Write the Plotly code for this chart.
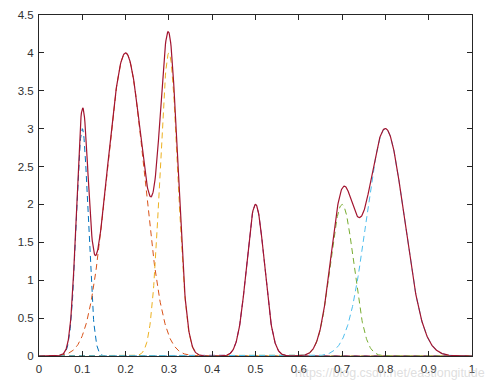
import numpy as np
import plotly.graph_objects as go

# Peak parameters (one dashed component per peak)
centers = [0.1, 0.2, 0.3, 0.5, 0.7, 0.8]
heights = [3.0, 4.0, 4.0, 2.0, 2.0, 3.0]
widths = [0.0136, 0.043, 0.0205, 0.0205, 0.027, 0.0435]
colors = ["#0072BD", "#D95319", "#EDB120", "#7E2F8E", "#77AC30", "#4DBEEE"]
sum_color = "#A2142F"

x_ticks = [0, 0.1, 0.2, 0.3, 0.4, 0.5, 0.6, 0.7, 0.8, 0.9, 1]
x_tick_labels = ["0", "0.1", "0.2", "0.3", "0.4", "0.5", "0.6", "0.7", "0.8", "0.9", "1"]
y_ticks = [0, 0.5, 1, 1.5, 2, 2.5, 3, 3.5, 4, 4.5]
y_tick_labels = ["0", "0.5", "1", "1.5", "2", "2.5", "3", "3.5", "4", "4.5"]

x = np.linspace(0, 1, 1001)
fig = go.Figure()
total = np.zeros_like(x)
for c, h, w, col in zip(centers, heights, widths, colors):
    y = h * np.exp(-((x - c) ** 2) / (2 * w ** 2))
    total += y
    fig.add_trace(go.Scatter(x=x, y=y, mode="lines",
                             line=dict(color=col, width=1, dash="6px,4px"),
                             hoverinfo="skip"))
fig.add_trace(go.Scatter(x=x, y=total, mode="lines",
                         line=dict(color=sum_color, width=1.2),
                         hoverinfo="skip"))

axis_common = dict(showgrid=False, zeroline=False, ticks="inside", ticklen=5,
                   tickwidth=1, tickcolor="#262626", showline=True,
                   linecolor="#262626", linewidth=1, mirror="ticks",
                   automargin=False,
                   tickfont=dict(family="Liberation Sans, Arial, sans-serif",
                                 size=11.5, color="#303030"))
fig.update_xaxes(range=[0, 1], tickvals=x_ticks, ticktext=x_tick_labels,
                 ticklabelstandoff=2, **axis_common)
fig.update_yaxes(range=[0, 4.5], tickvals=y_ticks, ticktext=y_tick_labels,
                 ticklabelstandoff=2, **axis_common)

fig.add_annotation(text="https://blog.csdn.net/eastlongitude", xref="paper", yref="paper",
                   x=1.035, y=-0.022, xanchor="right", yanchor="top", showarrow=False,
                   font=dict(family="Liberation Sans, Arial, sans-serif", size=12.5,
                             color="rgba(190,190,190,0.5)"))

fig.update_layout(width=493, height=389, showlegend=False,
                  margin=dict(l=39, r=21, t=15, b=33),
                  paper_bgcolor="white", plot_bgcolor="white")
fig.write_html("out.html", config={"displayModeBar": False},
               post_script="document.body.style.margin='0';document.body.style.padding='0';")
